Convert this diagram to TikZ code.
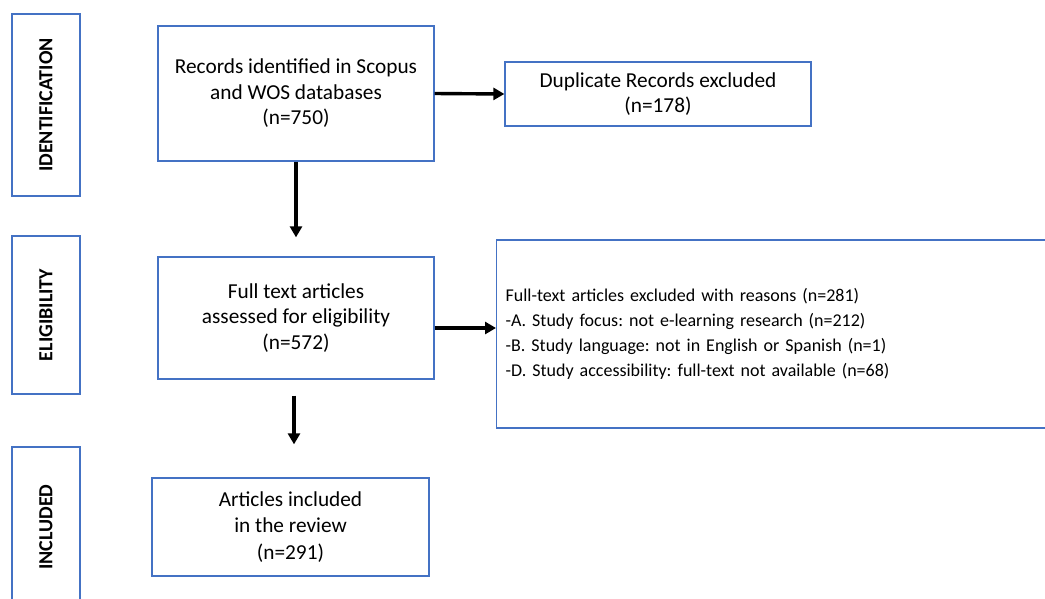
\documentclass[tikz,border=0pt]{standalone}
\usepackage{fontspec}
\setmainfont{Carlito}
\usetikzlibrary{arrows.meta,calc}
\definecolor{boxblue}{RGB}{68,114,196}
\begin{document}
\begin{tikzpicture}[x=1pt,y=-1pt,
  box/.style={draw=boxblue,line width=1.3pt,fill=white,align=center,inner sep=0pt,
    font=\fontsize{21.3}{25.5}\selectfont\frenchspacing},
  stage/.style={draw=boxblue,line width=1.3pt,rotate=90,inner sep=0pt,minimum height=68pt,
    font=\fontsize{20}{22}\selectfont\bfseries},
  arr/.style={line width=3.4pt,-{Triangle[length=11pt,width=12pt]}}]
\useasboundingbox (0,0) rectangle (1045,598);
\clip (0,0) rectangle (1045,598);
\node[stage,minimum width=182pt] (sid) at (46,105) {IDENTIFICATION};
\node[stage,minimum width=158pt] (sel) at (46,315) {ELIGIBILITY};
\node[stage,minimum width=160pt] (sin) at (46,527) {INCLUDED};
\node[box,minimum width=276pt,minimum height=135pt] (rec) at (296,93.5)
  {Records identified in Scopus\\and WOS databases\\(n=750)};
\node[box,minimum width=306pt,minimum height=64pt] (dup) at (658,94)
  {Duplicate Records excluded\\(n=178)};
\node[box,minimum width=276pt,minimum height=122pt] (full) at (296,318)
  {Full text articles\\assessed for eligibility\\(n=572)};
\node[box,anchor=west,minimum height=188pt,text width=580pt,align=left,inner xsep=9pt,
  font=\fontsize{18}{25}\selectfont\frenchspacing] (excl) at (496,334)
  {Full-text articles excluded with reasons (n=281)\\
   -A. Study focus: not e-learning research (n=212)\\
   -B. Study language: not in English or Spanish (n=1)\\
   -D. Study accessibility: full-text not available (n=68)};
\node[box,minimum width=277pt,minimum height=98pt,font=\fontsize{21.3}{26.5}\selectfont] (inc) at (290.5,527)
  {Articles included\\in the review\\(n=291)};
\draw[arr] (rec.east) -- (dup.west);
\draw[arr,shorten >=19pt] (rec.south) -- (full.north);
\draw[arr] ([yshift=-10pt]full.east) -- ([yshift=-10pt]full.east -| excl.west);
\coordinate (a4s) at ([xshift=-2pt,yshift=-16pt]full.south);
\coordinate (a4e) at (a4s |- inc.north);
\draw[arr,shorten >=33pt] (a4s) -- (a4e);
\end{tikzpicture}
\end{document}
